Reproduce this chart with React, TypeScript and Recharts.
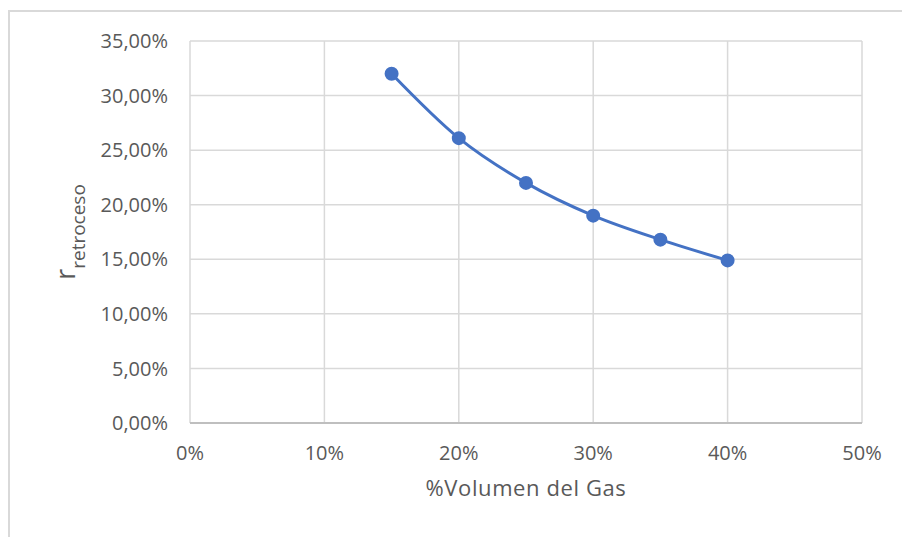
import React from "react";
import {
  LineChart, Line, XAxis, YAxis, CartesianGrid, Label,
} from "recharts";

const gasVolume = [0.15, 0.2, 0.25, 0.3, 0.35, 0.4];
const retroceso = [0.32, 0.261, 0.22, 0.19, 0.168, 0.149];
const xTicks = [0, 0.1, 0.2, 0.3, 0.4, 0.5];
const yTicks = [0, 0.05, 0.1, 0.15, 0.2, 0.25, 0.3, 0.35];

const data = gasVolume.map((x, i) => ({ x, y: retroceso[i] }));

const FONT = "'Open Sans', sans-serif";
const TEXT = "#595959";
const BLUE = "#4472c4";

const fmtX = (v: number) => `${Math.round(v * 100)}%`;
const fmtY = (v: number) => `${(v * 100).toFixed(2).replace(".", ",")}%`;

function YTitle() {
  return (
    <text
      transform="rotate(-90)"
      x={-232}
      y={75}
      textAnchor="middle"
      fill={TEXT}
      fontFamily={FONT}
    >
      <tspan fontSize={27}>r</tspan>
      <tspan fontSize={19} dy={10}>retroceso</tspan>
    </text>
  );
}

export default function App() {
  return (
    <div style={{ position: "absolute", left: 0, top: 0, width: 902, height: 537, overflow: "hidden", background: "#fff" }}>
      <div
        style={{
          position: "absolute", left: 8, top: 10, width: 920, height: 560,
          border: "2px solid #d9d9d9", boxSizing: "border-box",
        }}
      />
      <div style={{ position: "absolute", left: 0, top: 0 }}>
        <LineChart width={902} height={537} data={data} margin={{ top: 41, right: 40, bottom: 0, left: 0 }}>
          <CartesianGrid stroke="#d9d9d9" strokeWidth={1.5} />
          <XAxis
            dataKey="x"
            type="number"
            domain={[0, 0.5]}
            ticks={xTicks}
            tickFormatter={fmtX}
            height={114}
            tickLine={false}
            tickSize={0}
            tickMargin={23}
            axisLine={{ stroke: "#bfbfbf", strokeWidth: 2 }}
            tick={{ fill: TEXT, fontSize: 20, fontFamily: FONT }}
          >
            <Label
              value="%Volumen del Gas"
              position="insideTop"
              offset={57}
              fill={TEXT}
              fontSize={22}
              letterSpacing={0.6}
              fontFamily={FONT}
            />
          </XAxis>
          <YAxis
            type="number"
            domain={[0, 0.35]}
            ticks={yTicks}
            tickFormatter={fmtY}
            width={190}
            tickLine={false}
            tickSize={0}
            tickMargin={22}
            axisLine={false}
            tick={{ fill: TEXT, fontSize: 20, fontFamily: FONT }}
          >
            <Label content={<YTitle />} />
          </YAxis>
          <Line
            dataKey="y"
            type="monotone"
            stroke={BLUE}
            strokeWidth={3}
            dot={{ r: 6, fill: BLUE, stroke: BLUE, strokeWidth: 2 }}
            isAnimationActive={false}
          />
        </LineChart>
      </div>
    </div>
  );
}
